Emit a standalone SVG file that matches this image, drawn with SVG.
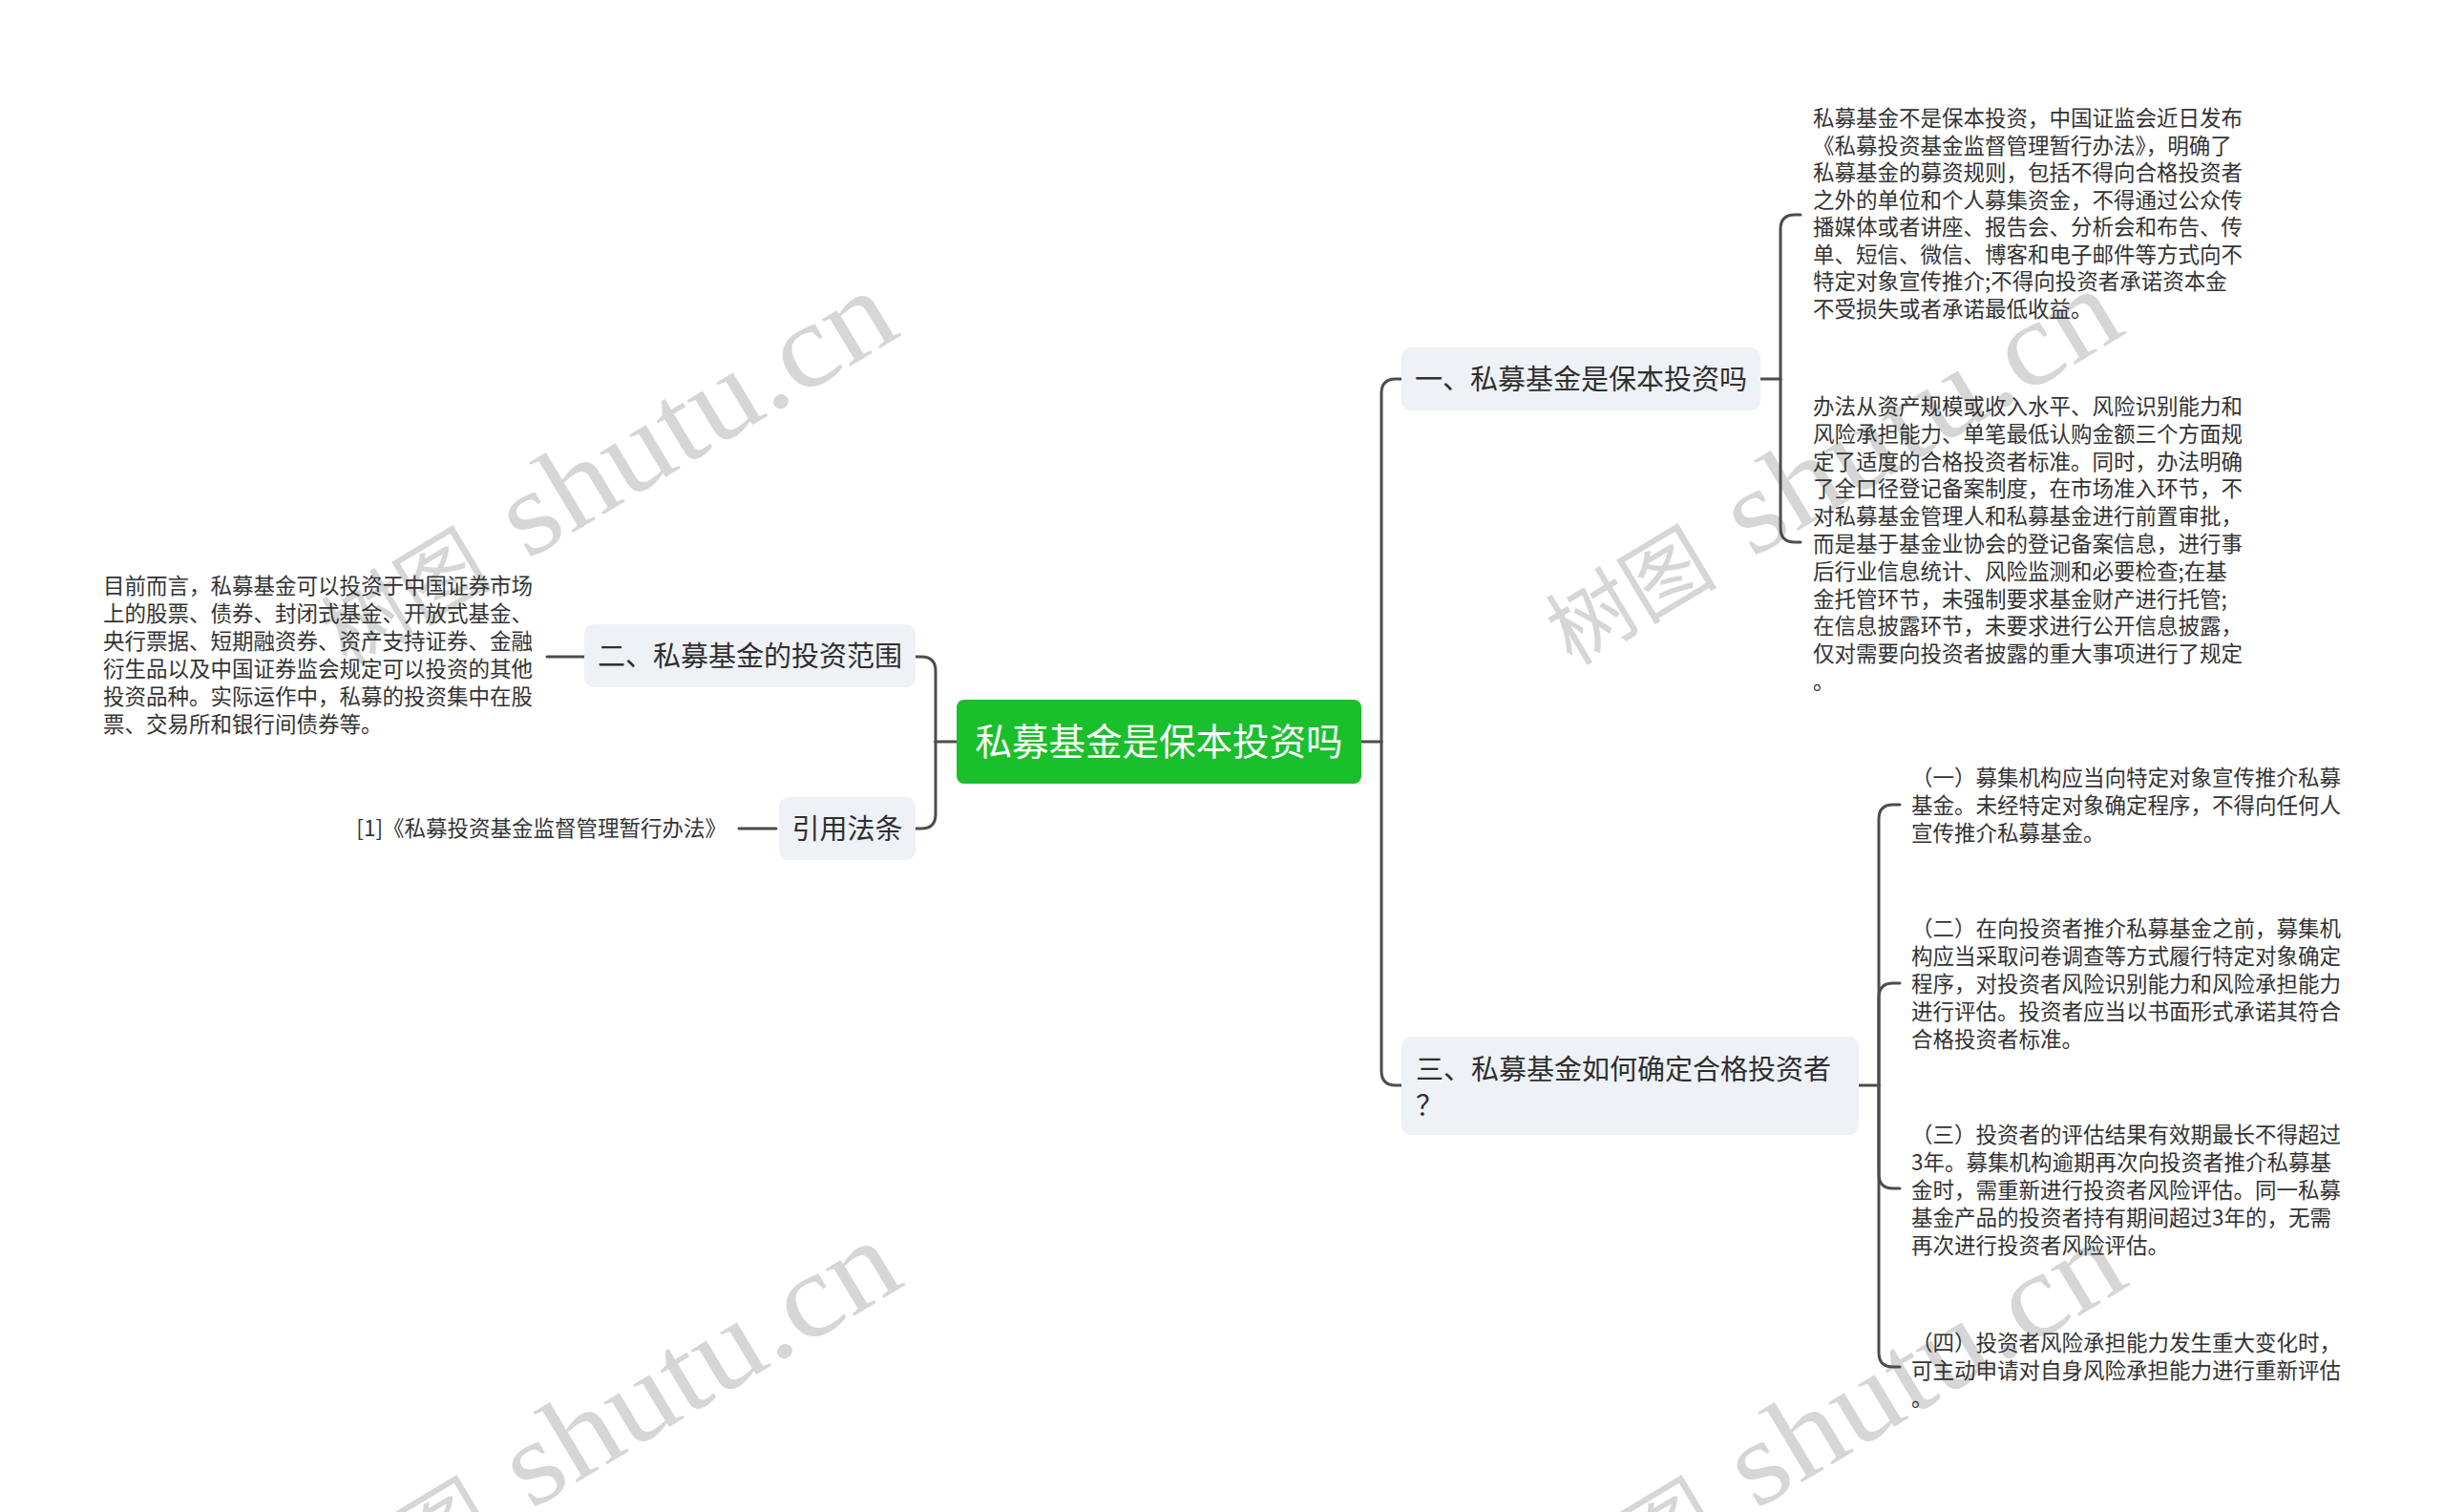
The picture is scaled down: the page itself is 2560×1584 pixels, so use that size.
<svg xmlns="http://www.w3.org/2000/svg" width="2560" height="1584" viewBox="0 0 2560 1584">
<style>
.wm{fill:#d6d6d6}
.wmc{font-family:"Noto Sans CJK SC",sans-serif;font-size:90px}
.wml{font-family:"Liberation Serif",serif;font-size:125px}
.node{fill:#eef1f5}
.nt{font-family:"Noto Sans CJK SC","Noto Sans",sans-serif;font-size:29px;fill:#2f2f2f}
.ct{font-family:"Noto Sans CJK SC","Noto Sans",sans-serif;font-size:38.5px;fill:#ffffff}
.lt{font-family:"Noto Sans CJK SC","Noto Sans",sans-serif;font-size:22.5px;fill:#333333}
.cn{fill:none;stroke:#4d4d4d;stroke-width:3;stroke-linecap:round}
</style>
<rect width="2560" height="1584" fill="#ffffff"/>
<g id="watermarks" class="wm">
  <g transform="translate(552,587) rotate(-31)"><text class="wmc" x="-40" y="0" text-anchor="end">树图</text><text class="wml" x="0" y="0" textLength="460" lengthAdjust="spacingAndGlyphs">shutu.cn</text></g>
  <g transform="translate(1835,585) rotate(-31)"><text class="wmc" x="-40" y="0" text-anchor="end">树图</text><text class="wml" x="0" y="0" textLength="460" lengthAdjust="spacingAndGlyphs">shutu.cn</text></g>
  <g transform="translate(556,1582) rotate(-31)"><text class="wmc" x="-40" y="0" text-anchor="end">树图</text><text class="wml" x="0" y="0" textLength="460" lengthAdjust="spacingAndGlyphs">shutu.cn</text></g>
  <g transform="translate(1839,1582) rotate(-31)"><text class="wmc" x="-40" y="0" text-anchor="end">树图</text><text class="wml" x="0" y="0" textLength="460" lengthAdjust="spacingAndGlyphs">shutu.cn</text></g>
</g>
<g id="connectors" class="cn">
  <path d="M1426,777 H1447"/>
  <path d="M1447,777 V412 Q1447,397 1462,397 H1468"/>
  <path d="M1447,777 V1122 Q1447,1137 1462,1137 H1468"/>
  <path d="M1002,777 H980"/>
  <path d="M980,777 V703 Q980,688 965,688 H959"/>
  <path d="M980,777 V853 Q980,868 965,868 H959"/>
  <path d="M1844,397 H1865"/>
  <path d="M1865,397 V240 Q1865,225 1880,225 H1886"/>
  <path d="M1865,397 V553 Q1865,568 1880,568 H1886"/>
  <path d="M1947,1137 H1968"/>
  <path d="M1968,1137 V858 Q1968,843 1983,843 H1990"/>
  <path d="M1968,1137 V1045 Q1968,1030 1983,1030 H1990"/>
  <path d="M1968,1137 V1230 Q1968,1245 1983,1245 H1990"/>
  <path d="M1968,1137 V1417 Q1968,1432 1983,1432 H1990"/>
  <path d="M612,688 H573"/>
  <path d="M813,868 H774"/>
</g>
<g id="root">
  <rect x="1002" y="733" width="424" height="88" rx="8" fill="#1abf2c"/>
  <text class="ct" x="1214" y="791" text-anchor="middle">私募基金是保本投资吗</text>
</g>
<g id="n1">
  <rect class="node" x="1468" y="364" width="376" height="66" rx="10"/>
  <text class="nt" x="1656" y="408" text-anchor="middle">一、私募基金是保本投资吗</text>
</g>
<g id="n3">
  <rect class="node" x="1468" y="1086" width="479" height="103" rx="10"/>
  <text class="nt" x="1483" y="1131">三、私募基金如何确定合格投资者</text>
  <text class="nt" x="1483" y="1169">？</text>
</g>
<g id="n2">
  <rect class="node" x="612" y="654" width="347" height="66" rx="10"/>
  <text class="nt" x="785.5" y="698" text-anchor="middle">二、私募基金的投资范围</text>
</g>
<g id="ncite">
  <rect class="node" x="816" y="835" width="143" height="66" rx="10"/>
  <text class="nt" x="887.5" y="879" text-anchor="middle">引用法条</text>
</g>
<g id="leaf1a">
  <text class="lt" x="1899" y="132">私募基金不是保本投资，中国证监会近日发布</text>
  <text class="lt" x="1899" y="160.5">《私募投资基金监督管理暂行办法》，明确了</text>
  <text class="lt" x="1899" y="189">私募基金的募资规则，包括不得向合格投资者</text>
  <text class="lt" x="1899" y="217.5">之外的单位和个人募集资金，不得通过公众传</text>
  <text class="lt" x="1899" y="246">播媒体或者讲座、报告会、分析会和布告、传</text>
  <text class="lt" x="1899" y="274.5">单、短信、微信、博客和电子邮件等方式向不</text>
  <text class="lt" x="1899" y="303">特定对象宣传推介;不得向投资者承诺资本金</text>
  <text class="lt" x="1899" y="331.5">不受损失或者承诺最低收益。</text>
</g>
<g id="leaf1b">
  <text class="lt" x="1899" y="434">办法从资产规模或收入水平、风险识别能力和</text>
  <text class="lt" x="1899" y="462.8">风险承担能力、单笔最低认购金额三个方面规</text>
  <text class="lt" x="1899" y="491.6">定了适度的合格投资者标准。同时，办法明确</text>
  <text class="lt" x="1899" y="520.4">了全口径登记备案制度，在市场准入环节，不</text>
  <text class="lt" x="1899" y="549.2">对私募基金管理人和私募基金进行前置审批，</text>
  <text class="lt" x="1899" y="578">而是基于基金业协会的登记备案信息，进行事</text>
  <text class="lt" x="1899" y="606.8">后行业信息统计、风险监测和必要检查;在基</text>
  <text class="lt" x="1899" y="635.6">金托管环节，未强制要求基金财产进行托管;</text>
  <text class="lt" x="1899" y="664.4">在信息披露环节，未要求进行公开信息披露，</text>
  <text class="lt" x="1899" y="693.2">仅对需要向投资者披露的重大事项进行了规定</text>
  <text class="lt" x="1899" y="722">。</text>
</g>
<g id="leaf3a">
  <text class="lt" x="2002" y="823">（一）募集机构应当向特定对象宣传推介私募</text>
  <text class="lt" x="2002" y="852">基金。未经特定对象确定程序，不得向任何人</text>
  <text class="lt" x="2002" y="881">宣传推介私募基金。</text>
</g>
<g id="leaf3b">
  <text class="lt" x="2002" y="981">（二）在向投资者推介私募基金之前，募集机</text>
  <text class="lt" x="2002" y="1010">构应当采取问卷调查等方式履行特定对象确定</text>
  <text class="lt" x="2002" y="1039">程序，对投资者风险识别能力和风险承担能力</text>
  <text class="lt" x="2002" y="1068">进行评估。投资者应当以书面形式承诺其符合</text>
  <text class="lt" x="2002" y="1097">合格投资者标准。</text>
</g>
<g id="leaf3c">
  <text class="lt" x="2002" y="1197">（三）投资者的评估结果有效期最长不得超过</text>
  <text class="lt" x="2002" y="1226">3年。募集机构逾期再次向投资者推介私募基</text>
  <text class="lt" x="2002" y="1255">金时，需重新进行投资者风险评估。同一私募</text>
  <text class="lt" x="2002" y="1284">基金产品的投资者持有期间超过3年的，无需</text>
  <text class="lt" x="2002" y="1313">再次进行投资者风险评估。</text>
</g>
<g id="leaf3d">
  <text class="lt" x="2002" y="1415">（四）投资者风险承担能力发生重大变化时，</text>
  <text class="lt" x="2002" y="1444">可主动申请对自身风险承担能力进行重新评估</text>
  <text class="lt" x="2002" y="1473">。</text>
</g>
<g id="leaf2">
  <text class="lt" x="108" y="622">目前而言，私募基金可以投资于中国证券市场</text>
  <text class="lt" x="108" y="651">上的股票、债券、封闭式基金、开放式基金、</text>
  <text class="lt" x="108" y="680">央行票据、短期融资券、资产支持证券、金融</text>
  <text class="lt" x="108" y="709">衍生品以及中国证券监会规定可以投资的其他</text>
  <text class="lt" x="108" y="738">投资品种。实际运作中，私募的投资集中在股</text>
  <text class="lt" x="108" y="767">票、交易所和银行间债券等。</text>
</g>
<g id="cite">
  <text class="lt" x="761" y="876" text-anchor="end">[1]《私募投资基金监督管理暂行办法》</text>
</g>
</svg>
